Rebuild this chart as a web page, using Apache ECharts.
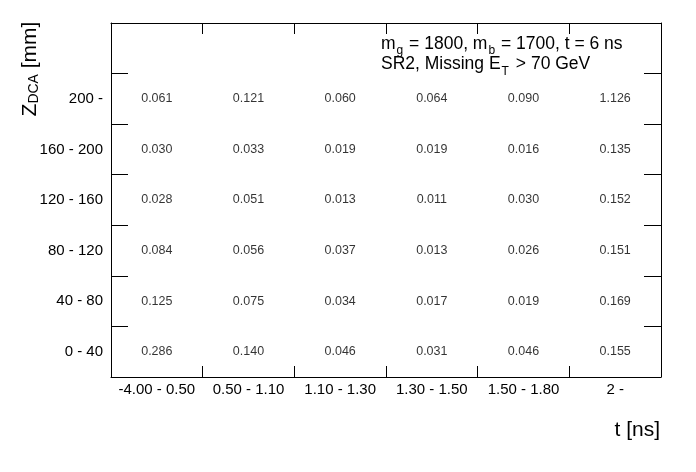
<!DOCTYPE html>
<html>
<head>
<meta charset="utf-8">
<script src="https://cdn.jsdelivr.net/npm/echarts@6/dist/echarts.min.js"></script>
<style>html,body{margin:0;padding:0;background:#fff}#c{width:696px;height:472px}</style>
</head>
<body>
<div id="c"></div>
<script>
var xCategories = ['-4.00 - 0.50', '0.50 - 1.10', '1.10 - 1.30', '1.30 - 1.50', '1.50 - 1.80', '2 -'];
var yCategories = ['0 - 40', '40 - 80', '80 - 120', '120 - 160', '160 - 200', '200 -', ''];
// rows from bottom (0 - 40) to top (200 -)
var row0_40    = [0.286, 0.140, 0.046, 0.031, 0.046, 0.155];
var row40_80   = [0.125, 0.075, 0.034, 0.017, 0.019, 0.169];
var row80_120  = [0.084, 0.056, 0.037, 0.013, 0.026, 0.151];
var row120_160 = [0.028, 0.051, 0.013, 0.011, 0.030, 0.152];
var row160_200 = [0.030, 0.033, 0.019, 0.019, 0.016, 0.135];
var row200     = [0.061, 0.121, 0.060, 0.064, 0.090, 1.126];
var rows = [row0_40, row40_80, row80_120, row120_160, row160_200, row200];

var cells = [];
rows.forEach(function (r, yi) {
  r.forEach(function (v, xi) { cells.push([xi, yi, v]); });
});

var FONT = 'Liberation Sans, Arial, Helvetica, sans-serif';
var chart = echarts.init(document.getElementById('c'), null, {renderer: 'canvas'});
var lineStyle = {color: '#000', width: 1};
chart.setOption({
  animation: false,
  backgroundColor: '#fff',
  grid: {left: 111, top: 23, right: 35, bottom: 95, containLabel: false},
  xAxis: [
    {type: 'category', data: xCategories, position: 'bottom', boundaryGap: true,
     axisLine: {show: true, onZero: false, lineStyle: lineStyle},
     axisTick: {show: true, inside: true, length: 11, lineStyle: lineStyle},
     axisLabel: {show: true, color: '#000', fontSize: 15, fontFamily: FONT, margin: 5, interval: 0},
     splitLine: {show: false}},
    {type: 'category', data: xCategories, position: 'top', boundaryGap: true,
     axisLine: {show: true, onZero: false, lineStyle: lineStyle},
     axisTick: {show: true, inside: true, length: 11, lineStyle: lineStyle},
     axisLabel: {show: false}, splitLine: {show: false}}
  ],
  yAxis: [
    {type: 'category', data: yCategories, position: 'left', boundaryGap: true,
     axisLine: {show: true, onZero: false, lineStyle: lineStyle},
     axisTick: {show: true, inside: true, length: 17, lineStyle: lineStyle},
     axisLabel: {show: true, color: '#000', fontSize: 15, fontFamily: FONT, margin: 8, interval: 0},
     splitLine: {show: false}},
    {type: 'category', data: yCategories, position: 'right', boundaryGap: true,
     axisLine: {show: true, onZero: false, lineStyle: lineStyle},
     axisTick: {show: true, inside: true, length: 17, lineStyle: lineStyle},
     axisLabel: {show: false}, splitLine: {show: false}}
  ],
  series: [{
    type: 'scatter',
    xAxisIndex: 0, yAxisIndex: 0,
    data: cells,
    symbolSize: 1,
    itemStyle: {color: 'rgba(0,0,0,0)'},
    label: {
      show: true, position: 'inside', color: '#000', fontSize: 12.5, fontFamily: FONT,
      formatter: function (p) { return p.value[2].toFixed(3); }
    },
    emphasis: {disabled: true}
  }],
  graphic: [
    {type: 'text', x: 30, y: 69, rotation: Math.PI / 2,
     style: {
       text: '{n|Z}{s|DCA}{n| [mm]}', align: 'center', verticalAlign: 'middle',
       rich: {
         n: {fontSize: 21, fontFamily: FONT, fill: '#000', lineHeight: 22},
         s: {fontSize: 14, fontFamily: FONT, fill: '#000', lineHeight: 18, verticalAlign: 'bottom'}
       }
     }},
    {type: 'text', x: 660, y: 430,
     style: {text: 't [ns]', align: 'right', verticalAlign: 'middle', fontSize: 21, fontFamily: FONT, fill: '#000'}},
    {type: 'text', x: 381, y: 44,
     style: {
       text: '{n|m}{s|g}{n| = 1800, m}{s|b}{n| = 1700, t = 6 ns}', align: 'left', verticalAlign: 'middle',
       rich: {
         n: {fontSize: 17.5, fontFamily: FONT, fill: '#000', lineHeight: 26},
         s: {fontSize: 12, fontFamily: FONT, fill: '#000', lineHeight: 12, verticalAlign: 'bottom', padding: [0, 1, 0, 1]}
       }
     }},
    {type: 'text', x: 381, y: 64,
     style: {
       text: '{n|SR2, Missing E}{s|T}{n| > 70 GeV}', align: 'left', verticalAlign: 'middle',
       rich: {
         n: {fontSize: 17.5, fontFamily: FONT, fill: '#000', lineHeight: 28},
         s: {fontSize: 12, fontFamily: FONT, fill: '#000', lineHeight: 12, verticalAlign: 'bottom', padding: [0, 2, 0, 1]}
       }
     }}
  ]
});
</script>
</body>
</html>
